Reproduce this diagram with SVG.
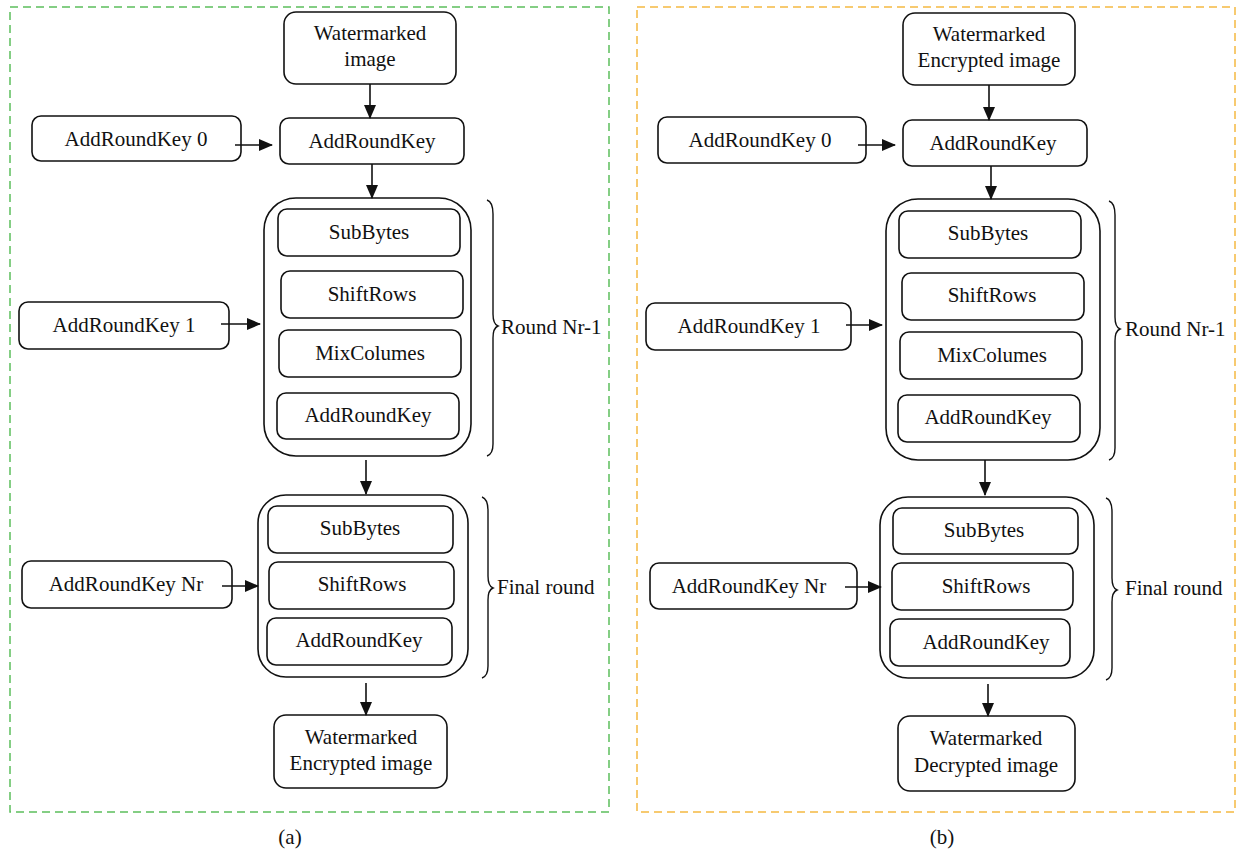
<svg xmlns="http://www.w3.org/2000/svg" width="1237" height="854" viewBox="0 0 1237 854">
<defs>
<marker id="ah" markerWidth="14" markerHeight="13" refX="13" refY="6.5" orient="auto" markerUnits="userSpaceOnUse">
<path d="M0,0.5 L14,6.5 L0,12.5 Z" fill="#111"/>
</marker>
<style>
.box{fill:#fff;stroke:#111;stroke-width:1.6}
.t{font-family:"Liberation Serif",serif;font-size:21px;fill:#111;text-anchor:middle}
.tl{font-family:"Liberation Serif",serif;font-size:21px;fill:#111}
.c{stroke:#111;stroke-width:1.6;fill:none}
.br{stroke:#111;stroke-width:1.4;fill:none}
</style>
</defs>
<rect x="0" y="0" width="1237" height="854" fill="#fff"/>
<rect id="panelA" x="10" y="7" width="599" height="805" fill="none" stroke="#5cbf5c" stroke-width="1.5" stroke-dasharray="8,5"/>
<rect id="panelB" x="637" y="7" width="598" height="805" fill="none" stroke="#f5b942" stroke-width="1.5" stroke-dasharray="8,5"/>

<!-- Panel A -->
<g id="a_input"><rect class="box" x="284" y="12" width="172" height="72" rx="12"/><text class="t" x="370" y="40">Watermarked</text><text class="t" x="370" y="66">image</text></g>
<g id="a_ark"><rect class="box" x="280" y="118" width="184" height="46" rx="9"/><text class="t" x="372" y="148">AddRoundKey</text></g>
<g id="a_k0"><rect class="box" x="32" y="116" width="209" height="45" rx="9"/><text class="t" x="136" y="146">AddRoundKey 0</text></g>
<g id="a_round"><rect class="box" x="264" y="198" width="207" height="258" rx="32"/>
<rect class="box" x="278" y="209" width="182" height="47" rx="9"/><text class="t" x="369" y="239">SubBytes</text>
<rect class="box" x="281" y="271" width="182" height="47" rx="9"/><text class="t" x="372" y="301">ShiftRows</text>
<rect class="box" x="279" y="330" width="182" height="47" rx="9"/><text class="t" x="370" y="360">MixColumes</text>
<rect class="box" x="277" y="393" width="182" height="46" rx="9"/><text class="t" x="368" y="422">AddRoundKey</text></g>
<g id="a_k1"><rect class="box" x="19" y="302" width="210" height="47" rx="9"/><text class="t" x="124" y="332">AddRoundKey 1</text></g>
<g id="a_brace1"><path class="br" d="M487,200 Q493,202 493,214 L493,314 Q493,324 498,326 Q493,328 493,338 L493,444 Q493,454 487,456"/><text class="tl" x="501" y="334">Round Nr-1</text></g>
<g id="a_final"><rect class="box" x="258" y="495" width="210" height="182" rx="28"/>
<rect class="box" x="268" y="506" width="185" height="47" rx="9"/><text class="t" x="360" y="535">SubBytes</text>
<rect class="box" x="269" y="562" width="185" height="47" rx="9"/><text class="t" x="362" y="591">ShiftRows</text>
<rect class="box" x="267" y="618" width="185" height="47" rx="9"/><text class="t" x="359" y="647">AddRoundKey</text></g>
<g id="a_knr"><rect class="box" x="22" y="561" width="210" height="47" rx="9"/><text class="t" x="126" y="591">AddRoundKey Nr</text></g>
<g id="a_brace2"><path class="br" d="M482,497 Q488,499 488,511 L488,576 Q488,586 493,588 Q488,590 488,600 L488,666 Q488,676 482,678"/><text class="tl" x="497" y="594">Final round</text></g>
<g id="a_output"><rect class="box" x="274" y="715" width="173" height="73" rx="12"/><text class="t" x="361" y="744">Watermarked</text><text class="t" x="361" y="770">Encrypted image</text></g>
<text class="t" x="290" y="844">(a)</text>

<!-- Panel B -->
<g id="b_input"><rect class="box" x="903" y="13" width="172" height="72" rx="12"/><text class="t" x="989" y="41">Watermarked</text><text class="t" x="989" y="67">Encrypted image</text></g>
<g id="b_ark"><rect class="box" x="903" y="120" width="184" height="46" rx="9"/><text class="t" x="993" y="150">AddRoundKey</text></g>
<g id="b_k0"><rect class="box" x="658" y="117" width="208" height="46" rx="9"/><text class="t" x="760" y="147">AddRoundKey 0</text></g>
<g id="b_round"><rect class="box" x="886" y="199" width="214" height="261" rx="32"/>
<rect class="box" x="899" y="211" width="182" height="47" rx="9"/><text class="t" x="988" y="240">SubBytes</text>
<rect class="box" x="902" y="273" width="182" height="47" rx="9"/><text class="t" x="992" y="302">ShiftRows</text>
<rect class="box" x="900" y="332" width="182" height="47" rx="9"/><text class="t" x="992" y="362">MixColumes</text>
<rect class="box" x="898" y="395" width="182" height="47" rx="9"/><text class="t" x="988" y="424">AddRoundKey</text></g>
<g id="b_k1"><rect class="box" x="646" y="303" width="205" height="47" rx="9"/><text class="t" x="749" y="333">AddRoundKey 1</text></g>
<g id="b_brace1"><path class="br" d="M1109,201 Q1115,203 1115,215 L1115,317 Q1115,327 1120,329 Q1115,331 1115,341 L1115,448 Q1115,458 1109,460"/><text class="tl" x="1125" y="336">Round Nr-1</text></g>
<g id="b_final"><rect class="box" x="880" y="497" width="214" height="181" rx="28"/>
<rect class="box" x="893" y="508" width="185" height="46" rx="9"/><text class="t" x="984" y="537">SubBytes</text>
<rect class="box" x="892" y="563" width="181" height="47" rx="9"/><text class="t" x="986" y="593">ShiftRows</text>
<rect class="box" x="890" y="619" width="180" height="47" rx="9"/><text class="t" x="986" y="649">AddRoundKey</text></g>
<g id="b_knr"><rect class="box" x="650" y="563" width="207" height="46" rx="9"/><text class="t" x="749" y="593">AddRoundKey Nr</text></g>
<g id="b_brace2"><path class="br" d="M1106,498 Q1112,500 1112,512 L1112,578 Q1112,588 1117,590 Q1112,592 1112,602 L1112,668 Q1112,678 1106,680"/><text class="tl" x="1125" y="595">Final round</text></g>
<g id="b_output"><rect class="box" x="898" y="716" width="177" height="75" rx="12"/><text class="t" x="986" y="745">Watermarked</text><text class="t" x="986" y="772">Decrypted image</text></g>
<text class="t" x="942" y="844">(b)</text>

<g id="connectors">
<line class="c" x1="370" y1="84" x2="370" y2="118" marker-end="url(#ah)"/>
<line class="c" x1="235" y1="145" x2="272" y2="145" marker-end="url(#ah)"/>
<line class="c" x1="372" y1="164" x2="372" y2="198" marker-end="url(#ah)"/>
<line class="c" x1="221" y1="324" x2="260" y2="324" marker-end="url(#ah)"/>
<line class="c" x1="366" y1="460" x2="366" y2="494" marker-end="url(#ah)"/>
<line class="c" x1="222" y1="586" x2="258" y2="586" marker-end="url(#ah)"/>
<line class="c" x1="366" y1="683" x2="366" y2="715" marker-end="url(#ah)"/>

<line class="c" x1="989" y1="85" x2="989" y2="120" marker-end="url(#ah)"/>
<line class="c" x1="858" y1="145" x2="895" y2="145" marker-end="url(#ah)"/>
<line class="c" x1="991" y1="166" x2="991" y2="199" marker-end="url(#ah)"/>
<line class="c" x1="846" y1="325" x2="882" y2="325" marker-end="url(#ah)"/>
<line class="c" x1="985" y1="460" x2="985" y2="495" marker-end="url(#ah)"/>
<line class="c" x1="845" y1="587" x2="881" y2="587" marker-end="url(#ah)"/>
<line class="c" x1="988" y1="684" x2="988" y2="716" marker-end="url(#ah)"/>
</g>
</svg>
